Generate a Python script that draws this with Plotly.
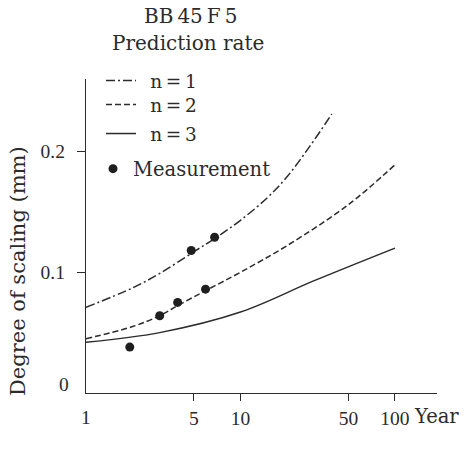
import plotly.graph_objects as go

# ---- data ----
years_n1 = [1, 2, 3, 5, 7, 10, 15, 20, 28, 39]
scaling_n1 = [0.071, 0.087, 0.099, 0.117, 0.129, 0.143, 0.162, 0.179, 0.204, 0.231]

years_n2 = [1, 2, 3, 4, 6, 10, 20, 50, 100]
scaling_n2 = [0.045, 0.055, 0.064, 0.073, 0.085, 0.100, 0.122, 0.156, 0.189]

years_n3 = [1, 3, 10, 30, 100]
scaling_n3 = [0.042, 0.050, 0.067, 0.093, 0.120]

meas_years = [1.92, 3.0, 3.92, 4.8, 5.94, 6.8]
meas_scaling = [0.038, 0.064, 0.075, 0.118, 0.086, 0.129]

x_tickvals = [5, 10, 50, 100]
x_ticktext = ["5", "10", "50", "100"]
y_tickvals = [0.1, 0.2]
y_ticktext = ["0.1", "0.2"]

INK = "#2b2b2b"
SERIF = "DejaVu Serif, serif"
NUMF = "Liberation Serif, serif"
TS = "\u2009"

fig = go.Figure()
fig.add_trace(go.Scatter(x=years_n1, y=scaling_n1, mode="lines", name=f"\u2002n{TS}={TS}1",
                         line=dict(color=INK, width=1.5, dash="9px,3px,2px,3px", shape="spline"),
                         legend="legend"))
fig.add_trace(go.Scatter(x=years_n2, y=scaling_n2, mode="lines", name=f"\u2002n{TS}={TS}2",
                         line=dict(color=INK, width=1.5, dash="6px,3px", shape="spline"),
                         legend="legend2"))
fig.add_trace(go.Scatter(x=years_n3, y=scaling_n3, mode="lines", name=f"\u2002n{TS}={TS}3",
                         line=dict(color=INK, width=1.5, shape="spline"),
                         legend="legend3"))
fig.add_trace(go.Scatter(x=meas_years, y=meas_scaling, mode="markers", name="Measurement",
                         marker=dict(color="#1e1e1e", size=9),
                         legend="legend4"))

W, H = 464, 469
L, R, T, B = 86, 27, 79, 76
pw, ph = W - L - R, H - T - B

def px(xp):
    return (xp - L) / pw

def py(yp):
    return (H - B - yp) / ph

def leg(size):
    return dict(bgcolor="rgba(0,0,0,0)", borderwidth=0, xanchor="left", yanchor="middle",
                font=dict(family=SERIF, size=size, color=INK), itemclick=False)

fig.update_layout(
    width=W, height=H,
    margin=dict(l=L, r=R, t=T, b=B, pad=0),
    paper_bgcolor="white", plot_bgcolor="white",
    showlegend=True,
    legend=dict(x=px(101), y=py(81), **leg(18.5)),
    legend2=dict(x=px(101), y=py(105), **leg(18.5)),
    legend3=dict(x=px(101), y=py(134), **leg(18.5)),
    legend4=dict(x=px(93), y=py(169), **leg(19.5)),
    xaxis=dict(type="log", range=[0, 2.272], showgrid=False, zeroline=False,
               showline=True, linecolor=INK, linewidth=1.3, mirror=False,
               tickmode="array", tickvals=x_tickvals, ticktext=x_ticktext,
               ticks="outside", ticklen=7, tickwidth=1.2, tickcolor=INK,
               ticklabelstandoff=0,
               tickfont=dict(family=NUMF, size=19.5, color=INK)),
    yaxis=dict(range=[0, 0.26], showgrid=False, zeroline=False,
               showline=True, linecolor=INK, linewidth=1.3, mirror=False,
               tickmode="array", tickvals=y_tickvals, ticktext=y_ticktext,
               ticks="outside", ticklen=8, tickwidth=1.2, tickcolor=INK,
               ticklabelstandoff=8,
               tickfont=dict(family=NUMF, size=19.5, color=INK)),
)

ann = [
    dict(text=f"BB{TS}45{TS}F{TS}5", x=px(190), y=py(16), size=20),
    dict(text="Prediction rate", x=px(188), y=py(43), size=20),
]
for a in ann:
    fig.add_annotation(text=a["text"], xref="paper", yref="paper", x=a["x"], y=a["y"],
                       xanchor="center", yanchor="middle", showarrow=False,
                       font=dict(family=SERIF, size=a["size"], color=INK))

# "1" and "0" labels at the axes corner, "Year" unit after 100
fig.add_annotation(text="1", xref="x", yref="paper", x=0, y=py(417), xanchor="center",
                   yanchor="middle", showarrow=False, font=dict(family=NUMF, size=19.5, color=INK))
fig.add_annotation(text="0", xref="paper", yref="y", x=px(71), y=0.007, xanchor="right",
                   yanchor="middle", showarrow=False, font=dict(family=NUMF, size=19.5, color=INK))
fig.add_annotation(text="Year", xref="paper", yref="paper", x=px(412), y=py(416), xanchor="left",
                   yanchor="middle", showarrow=False, font=dict(family=SERIF, size=19.5, color=INK))
fig.add_annotation(text="Degree of scaling (mm)", xref="paper", yref="paper", x=px(18), y=py(271),
                   xanchor="center", yanchor="middle", textangle=-90, showarrow=False,
                   font=dict(family=SERIF, size=21, color=INK))

fig.write_html("out.html")
